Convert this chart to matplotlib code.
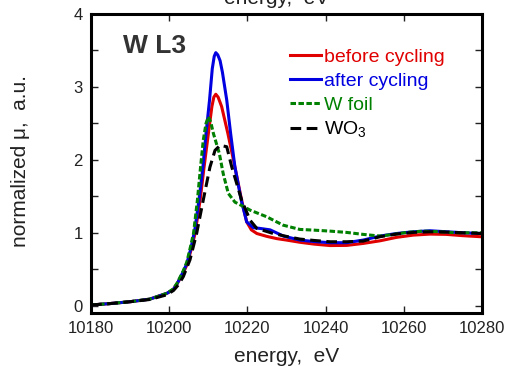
import numpy as np
import matplotlib
matplotlib.use('Agg')
import matplotlib.pyplot as plt

plt.rcParams['font.family'] = ['Liberation Sans', 'DejaVu Sans']
plt.rcParams['mathtext.fontset'] = 'custom'
plt.rcParams['mathtext.rm'] = 'Liberation Sans'

# W L3 edge
e_before = [10180, 10185, 10190, 10195, 10199.4, 10201, 10202, 10203.6, 10204.5, 10205.5, 10206.6,
            10207.9, 10208.9, 10210, 10210.9, 10211.4, 10211.9, 10212.5, 10213.4, 10215, 10216.8,
            10218.5, 10219.8, 10221, 10222.4, 10225, 10227.5, 10230, 10233.4, 10237, 10241.1,
            10245.4, 10249.6, 10253.9, 10258.1, 10262.4, 10266.7, 10270.9, 10275.2, 10280]
mu_before = [0.01, 0.03, 0.055, 0.09, 0.17, 0.22, 0.30, 0.45, 0.56, 0.75, 0.99,
             1.45, 1.90, 2.36, 2.73, 2.86, 2.90, 2.86, 2.73, 2.36, 1.90,
             1.45, 1.15, 1.04, 0.99, 0.95, 0.92, 0.90, 0.87, 0.845, 0.825,
             0.827, 0.854, 0.89, 0.937, 0.968, 0.982, 0.978, 0.96, 0.945]

e_after = [10180, 10185, 10190, 10195, 10199.4, 10201, 10202, 10203.6, 10204.5, 10205.5, 10206.5,
           10207.6, 10208.6, 10209.4, 10210.3, 10211.0, 10211.5, 10211.9, 10212.4, 10213.0, 10213.6,
           10214.7, 10215.7, 10216.8, 10218.4, 10219.8, 10221.5, 10223.2, 10225.8, 10229.2, 10233.4,
           10237, 10241.1, 10245.4, 10249.6, 10253.9, 10258.1, 10262.4, 10266.7, 10270.9, 10275.2,
           10280]
mu_after = [0.01, 0.03, 0.055, 0.09, 0.17, 0.22, 0.30, 0.47, 0.58, 0.78, 1.03,
            1.45, 1.90, 2.36, 2.82, 3.25, 3.42, 3.47, 3.44, 3.36, 3.20,
            2.82, 2.36, 1.90, 1.45, 1.15, 1.07, 1.06, 1.04, 0.955, 0.90,
            0.88, 0.864, 0.864, 0.90, 0.955, 0.99, 1.014, 1.028, 1.014, 1.0,
            0.99]

e_foil = [10180, 10185, 10190, 10195, 10199.4, 10201, 10202, 10203.6, 10204.5, 10205.3, 10206.2,
          10207.2, 10208.0, 10208.7, 10209.4, 10210.0, 10210.6, 10211.3, 10212.8, 10213.8, 10215.1,
          10216.8, 10219, 10220.7, 10224.9, 10229.1, 10233.4, 10236.8, 10241.1, 10245.4, 10249.6,
          10253.9, 10257.3, 10260.7, 10265, 10269.2, 10273.5, 10280]
mu_foil = [0.01, 0.03, 0.055, 0.09, 0.17, 0.23, 0.31, 0.48, 0.60, 0.78, 0.99,
           1.45, 1.90, 2.27, 2.50, 2.59, 2.52, 2.36, 2.09, 1.81, 1.54,
           1.42, 1.36, 1.31, 1.22, 1.105, 1.046, 1.037, 1.023, 1.005, 0.978,
           0.955, 0.978, 1.005, 1.023, 1.014, 1.0, 1.0]

e_wo3 = [10180, 10185, 10190, 10195, 10199.4, 10201.1, 10202.4, 10203.6, 10205.3, 10207.0, 10208.7,
         10210.4, 10211.7, 10213.0, 10214.7, 10216.0, 10218.5, 10220.7, 10222.4, 10226.6, 10230,
         10233.4, 10237, 10241.1, 10245.4, 10249.6, 10253.9, 10258.1, 10262.4, 10266.7, 10270.9,
         10275.2, 10280]
mu_wo3 = [0.01, 0.03, 0.055, 0.085, 0.15, 0.21, 0.29, 0.40, 0.63, 0.99, 1.45,
          1.90, 2.13, 2.20, 2.18, 1.90, 1.45, 1.17, 1.06, 0.99, 0.95,
          0.914, 0.895, 0.877, 0.877, 0.886, 0.946, 0.982, 1.005, 1.014, 1.01,
          1.0, 0.99]

fig = plt.figure(figsize=(5.06, 3.66), dpi=100)
ax = fig.add_axes([0.180, 0.1448, 0.7726, 0.8169])

ax.plot(e_before, mu_before, color='#e00000', lw=2.2, label='before cycling')
ax.plot(e_after, mu_after, color='#0000e0', lw=2.2, label='after cycling')
ax.plot(e_foil, mu_foil, color='#008000', lw=2.2, linestyle=(0, (1.8, 0.8)), label='W foil')
ax.plot(e_wo3, mu_wo3, color='black', lw=2.2, linestyle=(0, (3.5, 1.8)), label='WO$_3$')

ax.set_xlim(10180, 10280)
ax.set_ylim(-0.1, 4)
ax.set_xticks(np.arange(10180, 10281, 20))
ax.set_yticks([0, 1, 2, 3, 4])
ax.set_yticks(np.arange(0, 4.01, 0.5), minor=True)
ax.tick_params(axis='both', which='both', direction='in', top=True, right=True,
               labelsize=12, colors='#222222', width=1.0)
ax.tick_params(axis='both', which='major', length=5, pad=6)
ax.tick_params(axis='y', which='minor', length=5)
for s in ax.spines.values():
    s.set_linewidth(2.2)

ax.set_ylabel('normalized \u03bc,  a.u.', fontsize=15, color='#222222')
ax.yaxis.set_label_coords(-0.157, 0.51)
fig.text(287 / 506, 1 - 362 / 366, 'energy,  eV', fontsize=15, color='#222222',
         ha='center', va='baseline')
# clipped top axis label, as in the reference
fig.text(277 / 506, 1 - 4 / 366, 'energy,  eV', fontsize=15, color='#222222',
         ha='center', va='baseline')

ax.text(0.082, 0.87, 'W L3', transform=ax.transAxes, fontsize=19, fontweight='bold',
        color='#333333', va='baseline')

leg = ax.legend(loc='upper left', bbox_to_anchor=(0.509, 0.885), frameon=False,
                fontsize=14, handlelength=1.6, handletextpad=0.15, labelspacing=0.32,
                borderpad=0, borderaxespad=0, labelcolor='linecolor')

fig.savefig('out.png', dpi=100)
